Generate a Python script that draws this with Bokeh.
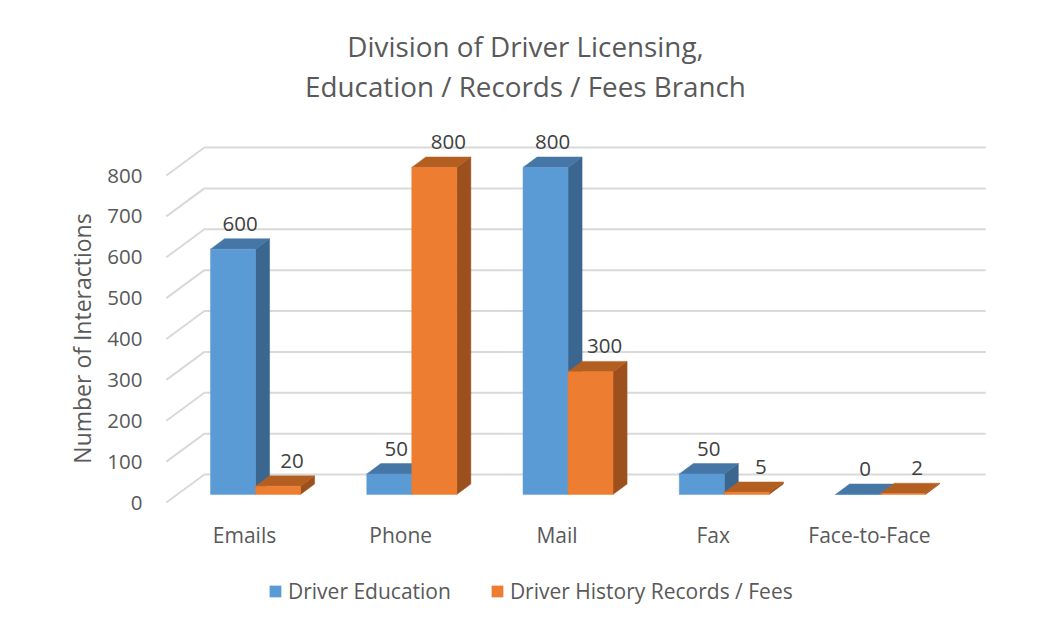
import math
from bokeh.plotting import figure
from bokeh.models import Range1d, FixedTicker, Legend, LegendItem, ColumnDataSource
from bokeh.embed import file_html
from bokeh.resources import INLINE
from bokeh.core.properties import value

# ---------------- data ----------------
categories = ["Emails", "Phone", "Mail", "Fax", "Face-to-Face"]
driver_education = [600, 50, 800, 50, 0]
driver_history = [20, 800, 300, 5, 2]
series_names = ["Driver Education", "Driver History Records / Fees"]
y_ticks = [0, 100, 200, 300, 400, 500, 600, 700, 800]
title_lines = ["Division of Driver Licensing,", "Education / Records / Fees Branch"]
y_title = "Number of Interactions"

# ---------------- styles ----------------
FONT = "Open Sans"
GREY_TXT = "#595959"
DARK_TXT = "#404040"
GRID = "#d9d9d9"
FRONT = ["#5b9bd5", "#ed7d31"]
TOP = ["#4676a6", "#b45f22"]
SIDE = ["#3b6690", "#9c501d"]
LABEL_DX = [0, 7]

W, H = 1023, 615
FL, FT = 70, 34                 # frame left / top (canvas px); frame runs to the canvas edges
PX_X = 156.25                   # px per category
PX_Y = 0.40875                  # px per value unit
CAT0_PX = 244                   # canvas x of first category (front plane)
ZERO_PX = 502                   # canvas y of value 0 (front plane)
x_start = -(CAT0_PX - FL) / PX_X
x_end = x_start + (W - FL) / PX_X
y_start = -(H - ZERO_PX) / PX_Y
y_end = (ZERO_PX - FT) / PX_Y


def px_x(px):
    return x_start + (px - FL) / PX_X


def px_y(py):
    return (ZERO_PX - py) / PX_Y


DX = 38 / PX_X          # wall depth (data units)
DY = 28 / PX_Y
D0, D1 = 0.29, 0.66     # bar depth band (fraction of wall depth)
BW = 45 / PX_X          # bar width

p = figure(width=W, height=H, output_backend="svg", toolbar_location=None,
           x_axis_location="above",
           x_range=Range1d(x_start, x_end), y_range=Range1d(y_start, y_end),
           min_border_left=FL, min_border_right=0, min_border_top=FT,
           min_border_bottom=0)
p.outline_line_color = None
p.grid.visible = False
p.background_fill_color = "white"
p.border_fill_color = "white"

# ---------------- walls / gridlines ----------------
gx, gy = [], []
for t in y_ticks:
    gx.append([-0.5, -0.5 + DX, len(categories) - 0.5 + DX])
    gy.append([t, t + DY, t + DY])
p.multi_line(gx, gy, line_color=GRID, line_width=2)

# ---------------- bars ----------------
legend_items = []
for s, vals in enumerate([driver_education, driver_history]):
    ox, oy = D0 * DX, D0 * DY
    ddx, ddy = (D1 - D0) * DX, (D1 - D0) * DY
    left, right, bottom, top = [], [], [], []
    top_xs, top_ys, side_xs, side_ys = [], [], [], []
    lx, ly, lt = [], [], []
    for c, v in enumerate(vals):
        xl = c + ox - BW + s * BW
        xr = xl + BW
        y0 = oy
        y1 = oy + v
        left.append(xl); right.append(xr); bottom.append(y0); top.append(y1)
        top_xs.append([xl, xr, xr + ddx, xl + ddx])
        top_ys.append([y1, y1, y1 + ddy, y1 + ddy])
        side_xs.append([xr, xr + ddx, xr + ddx, xr])
        side_ys.append([y0, y0 + ddy, y1 + ddy, y1])
        lx.append(xl + (BW + ddx) / 2)
        ly.append(y1 + ddy)
        lt.append(str(v))
    p.patches(side_xs, side_ys, fill_color=SIDE[s], line_color=SIDE[s], line_width=0.5)
    p.patches(top_xs, top_ys, fill_color=TOP[s], line_color=TOP[s], line_width=0.5)
    r = p.quad(left=left, right=right, bottom=bottom, top=top,
               fill_color=FRONT[s], line_color=FRONT[s], line_width=0.5)
    legend_items.append(LegendItem(label=series_names[s], renderers=[r]))
    src = ColumnDataSource(dict(x=lx, y=ly, t=lt))
    p.text(x="x", y="y", text="t", source=src, text_font=value(FONT),
           text_font_size="20.5px", text_color=DARK_TXT, text_align="center",
           text_baseline="alphabetic", x_offset=LABEL_DX[s], y_offset=-15)

# ---------------- axes ----------------
ya = p.yaxis[0]
ya.fixed_location = -0.5
ya.ticker = FixedTicker(ticks=y_ticks)
ya.axis_line_color = None
ya.major_tick_line_color = None
ya.minor_tick_line_color = None
ya.major_tick_out = 0
ya.major_tick_in = 0
ya.major_label_standoff = 24
ya.major_label_text_font = FONT
ya.major_label_text_font_size = "20.5px"
ya.major_label_text_color = GREY_TXT

xa = p.xaxis[0]
xa.fixed_location = px_y(548)
xa.ticker = FixedTicker(ticks=list(range(len(categories))))
xa.major_label_overrides = {i: c for i, c in enumerate(categories)}
xa.axis_line_color = None
xa.major_tick_line_color = None
xa.minor_tick_line_color = None
xa.major_tick_out = 0
xa.major_tick_in = 0
xa.major_label_standoff = 0
xa.major_label_text_font = FONT
xa.major_label_text_font_size = "21px"
xa.major_label_text_color = GREY_TXT

# ---------------- titles ----------------
tsrc = ColumnDataSource(dict(x=[px_x(525), px_x(525)], y=[px_y(45.5), px_y(85)], t=title_lines))
p.text(x="x", y="y", text="t", source=tsrc, text_font=value(FONT),
       text_font_size="27.8px", text_color=GREY_TXT, text_align="center",
       text_baseline="alphabetic")
p.text(x=[px_x(81)], y=[px_y(338)], text=[y_title], angle=math.pi / 2,
       text_font=value(FONT), text_font_size="23px", text_color=GREY_TXT,
       text_align="center", text_baseline="alphabetic")

# ---------------- legend ----------------
legend = Legend(items=legend_items, orientation="horizontal", location=(268 - FL, 10),
                glyph_width=14, glyph_height=14, label_standoff=6, spacing=39,
                padding=0, margin=0, border_line_color=None, background_fill_alpha=0,
                label_text_font=FONT, label_text_font_size="21px",
                label_text_color=GREY_TXT)
p.add_layout(legend, "center")

open("out.html", "w").write(file_html(p, INLINE))
